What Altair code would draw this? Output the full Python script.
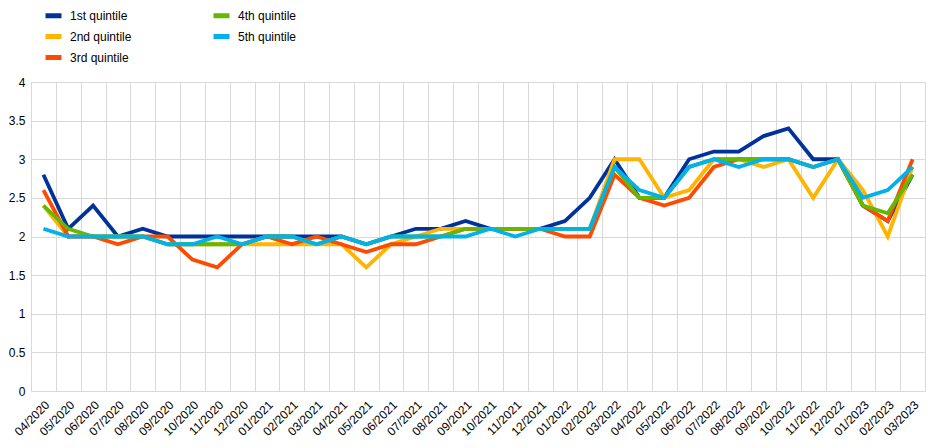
import altair as alt
import pandas as pd

months = ["04/2020","05/2020","06/2020","07/2020","08/2020","09/2020","10/2020","11/2020","12/2020",
          "01/2021","02/2021","03/2021","04/2021","05/2021","06/2021","07/2021","08/2021","09/2021",
          "10/2021","11/2021","12/2021","01/2022","02/2022","03/2022","04/2022","05/2022","06/2022",
          "07/2022","08/2022","09/2022","10/2022","11/2022","12/2022","01/2023","02/2023","03/2023"]

q1 = [2.8,2.1,2.4,2.0,2.1,2.0,2.0,2.0,2.0,2.0,2.0,2.0,2.0,1.9,2.0,2.1,2.1,2.2,2.1,2.1,2.1,2.2,2.5,
      3.0,2.5,2.5,3.0,3.1,3.1,3.3,3.4,3.0,3.0,2.4,2.2,2.8]
q2 = [2.4,2.0,2.0,2.0,2.0,1.9,1.9,1.9,1.9,1.9,1.9,1.9,1.9,1.6,1.9,2.0,2.1,2.1,2.1,2.1,2.1,2.1,2.1,
      3.0,3.0,2.5,2.6,3.0,3.0,2.9,3.0,2.5,3.0,2.6,2.0,2.9]
q3 = [2.6,2.0,2.0,1.9,2.0,2.0,1.7,1.6,1.9,2.0,1.9,2.0,1.9,1.8,1.9,1.9,2.0,2.1,2.1,2.1,2.1,2.0,2.0,
      2.8,2.5,2.4,2.5,2.9,3.0,3.0,3.0,2.9,3.0,2.4,2.2,3.0]
q4 = [2.4,2.1,2.0,2.0,2.0,1.9,1.9,1.9,1.9,2.0,2.0,1.9,2.0,1.9,2.0,2.0,2.0,2.1,2.1,2.1,2.1,2.1,2.1,
      2.9,2.5,2.5,2.9,3.0,3.0,3.0,3.0,2.9,3.0,2.4,2.3,2.8]
q5 = [2.1,2.0,2.0,2.0,2.0,1.9,1.9,2.0,1.9,2.0,2.0,1.9,2.0,1.9,2.0,2.0,2.0,2.0,2.1,2.0,2.1,2.1,2.1,
      2.9,2.6,2.5,2.9,3.0,2.9,3.0,3.0,2.9,3.0,2.5,2.6,2.9]

series = ["1st quintile","2nd quintile","3rd quintile","4th quintile","5th quintile"]
colors = ["#003299","#FFB400","#FF4B00","#65B800","#00B1EA"]
values = [q1, q2, q3, q4, q5]

rows = []
for s, vals in zip(series, values):
    for m, v in zip(months, vals):
        rows.append({"month": m, "series": s, "value": v})
df = pd.DataFrame(rows)

chart = alt.Chart(df).mark_line(strokeWidth=3.8).encode(
    x=alt.X("month:O", sort=months, title=None,
            scale=alt.Scale(paddingInner=0, paddingOuter=0),
            axis=alt.Axis(tickBand="extent", grid=True, gridColor="#d9d9d9", ticks=False,
                          domain=False, labelAngle=-45, labelFontSize=12, labelColor="#000000",
                          labelFont="Arial", labelPadding=8)),
    y=alt.Y("value:Q", title=None,
            scale=alt.Scale(domain=[0, 4]),
            axis=alt.Axis(values=[0,0.5,1,1.5,2,2.5,3,3.5,4], format="~g", grid=True,
                          gridColor="#d9d9d9", ticks=False, domain=False, labelFontSize=12,
                          labelColor="#000000", labelFont="Arial", labelPadding=6)),
    color=alt.Color("series:N", title=None,
                    scale=alt.Scale(domain=series, range=colors),
                    legend=alt.Legend(orient="none", legendX=12, legendY=-77, columns=2,
                                      symbolType="stroke", symbolStrokeWidth=5, symbolSize=256,
                                      labelFontSize=12, labelFont="Arial", labelColor="#000000",
                                      rowPadding=0, columnPadding=71, labelOffset=6, padding=0)),
    order=alt.Order("series:N"),
).properties(
    width=894, height=309,
    autosize=alt.AutoSizeParams(type="none"),
    padding={"left": 23, "top": 74, "right": 15, "bottom": 49},
).configure_view(stroke="#d9d9d9")

chart.save("out.html", embed_options={"renderer": "svg", "actions": False})
